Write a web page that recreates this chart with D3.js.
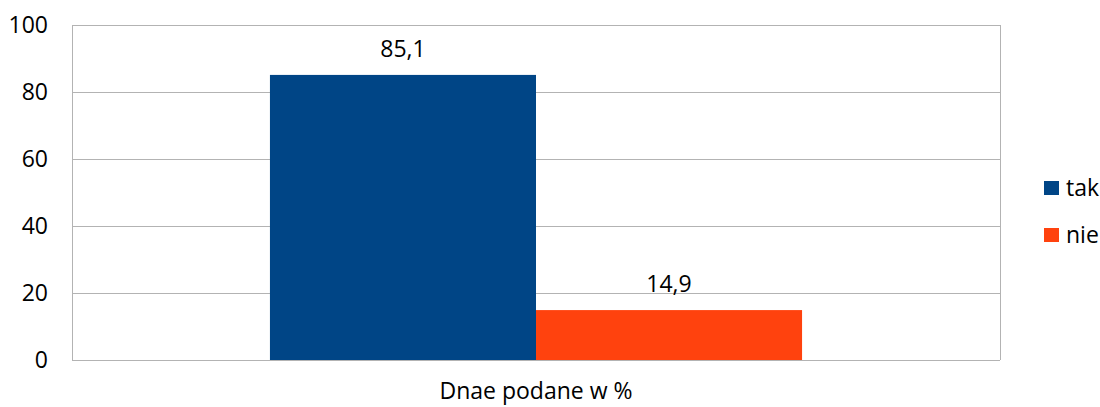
<!DOCTYPE html>
<html><head><meta charset="utf-8">
<script src="https://cdn.jsdelivr.net/npm/d3@7"></script>
<style>html,body{margin:0;padding:0;background:#fff}svg{display:block}text{font-family:"Open Sans",sans-serif;fill:#000}</style>
</head><body><div id="chart"></div>
<script>
const categories = ["Dnae podane w %"];
const seriesNames = ["tak", "nie"];
const seriesValues = [85.1, 14.9];
const seriesLabels = ["85,1", "14,9"];
const colors = ["#004586", "#ff420e"];
const yTicks = [0, 20, 40, 60, 80, 100];

const W = 1100, H = 407;
const m = {left: 72, right: 100, top: 25, bottom: 47};
const svg = d3.select("#chart").append("svg").attr("width", W).attr("height", H);

const x0 = d3.scaleBand().domain(categories).range([m.left, W - m.right]).paddingInner(0).paddingOuter(0.372);
const x1 = d3.scaleBand().domain(seriesNames).range([0, x0.bandwidth()]);
const y = d3.scaleLinear().domain([0, 100]).range([H - m.bottom, m.top]);

const fs = 23;
svg.append("g").selectAll("line").data(yTicks).join("line")
  .attr("x1", m.left).attr("x2", W - m.right)
  .attr("y1", d => y(d) + 0.5).attr("y2", d => y(d) + 0.5)
  .attr("stroke", "#b3b3b3").attr("stroke-width", 1);
svg.append("line").attr("x1", m.left + 0.5).attr("x2", m.left + 0.5)
  .attr("y1", m.top).attr("y2", y(0)).attr("stroke", "#b3b3b3");
svg.append("line").attr("x1", W - m.right + 0.5).attr("x2", W - m.right + 0.5)
  .attr("y1", m.top).attr("y2", y(0)).attr("stroke", "#b3b3b3");

const yAxis = d3.axisLeft(y).tickValues(yTicks).tickSize(0).tickPadding(24);
const gy = svg.append("g").attr("transform", `translate(${m.left},0)`).call(yAxis);
gy.select(".domain").remove();
gy.selectAll("text").style("font-family", '"Open Sans",sans-serif').style("font-size", fs + "px").attr("fill", "#000");

const g = svg.append("g").attr("transform", `translate(${x0(categories[0])},0)`);
g.selectAll("rect").data(seriesValues).join("rect")
  .attr("x", (d, i) => x1(seriesNames[i]))
  .attr("width", x1.bandwidth())
  .attr("y", d => y(d)).attr("height", d => y(0) - y(d))
  .attr("fill", (d, i) => colors[i]);
g.selectAll("text.v").data(seriesValues).join("text").attr("class", "v")
  .attr("x", (d, i) => x1(seriesNames[i]) + x1.bandwidth() / 2)
  .attr("y", d => y(d) - 18)
  .attr("text-anchor", "middle").style("font-size", fs + "px")
  .text((d, i) => seriesLabels[i]);

const xAxis = d3.axisBottom(x0).tickSize(0).tickPadding(23);
const gx = svg.append("g").attr("transform", `translate(0,${y(0)})`).call(xAxis);
gx.select(".domain").remove();
gx.selectAll("text").style("font-family", '"Open Sans",sans-serif').style("font-size", fs + "px").attr("fill", "#000");
svg.append("line").attr("x1", m.left).attr("x2", W - m.right)
  .attr("y1", y(0) + 0.5).attr("y2", y(0) + 0.5).attr("stroke", "#b3b3b3");

const lg = svg.append("g").selectAll("g").data(seriesNames).join("g")
  .attr("transform", (d, i) => `translate(1044,${181 + i * 47})`);
lg.append("rect").attr("width", 15).attr("height", 14).attr("fill", (d, i) => colors[i]);
lg.append("text").attr("x", 22).attr("y", 15).style("font-size", fs + "px").text(d => d);
</script></body></html>
